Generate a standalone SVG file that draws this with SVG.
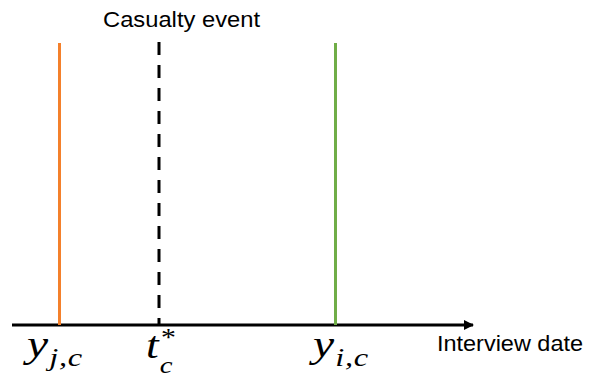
<svg xmlns="http://www.w3.org/2000/svg" width="590" height="380" viewBox="0 0 590 380">
<style>
.lbl{font-family:"Liberation Sans",Arial,sans-serif;font-size:22px;fill:#000}
.math{font-family:"Liberation Serif","Times New Roman",serif;font-style:italic;fill:#000}
.big{font-size:38px}
.sub{font-size:26px;letter-spacing:0.5px}
.sm{font-size:24px}
.st{font-size:25px}
</style>
<defs>
<marker id="arr" markerWidth="10" markerHeight="10" refX="9" refY="5" orient="auto" markerUnits="userSpaceOnUse">
<path d="M0,0 L10,5 L0,10 Z" fill="#000"/>
</marker>
</defs>
<rect width="590" height="380" fill="#fff"/>
<g id="connectors">
<line x1="12" y1="325" x2="473" y2="325" stroke="#000" stroke-width="3" marker-end="url(#arr)"/>
</g>
<g id="orange-line">
<line x1="59.5" y1="43" x2="59.5" y2="325" stroke="#f4802b" stroke-width="3"/>
</g>
<g id="event-line">
<line x1="159" y1="42" x2="159" y2="325" stroke="#000" stroke-width="3" stroke-dasharray="13 10"/>
</g>
<g id="green-line">
<line x1="335.5" y1="43" x2="335.5" y2="325" stroke="#70ad47" stroke-width="3"/>
</g>
<g id="casualty-label">
<text class="lbl" x="103" y="27" textLength="157" lengthAdjust="spacingAndGlyphs">Casualty event</text>
</g>
<g id="axis-label">
<text class="lbl" x="437" y="351" textLength="146" lengthAdjust="spacingAndGlyphs">Interview date</text>
</g>
<g id="yjc">
<text class="math" transform="matrix(1.25 0 0 1 27 0)" x="0" y="357"><tspan class="big">y</tspan><tspan class="sub" dx="1" dy="9">j,c</tspan></text>
</g>
<g id="tc">
<text class="math" transform="matrix(1.2 0 0 1 146 0)" x="0" y="358"><tspan class="big">t</tspan><tspan class="sm" dx="1" dy="15">c</tspan><tspan class="st" dx="-11" dy="-27">*</tspan></text>
</g>
<g id="yic">
<text class="math" transform="matrix(1.25 0 0 1 313 0)" x="0" y="357"><tspan class="big">y</tspan><tspan class="sub" dx="1" dy="9">i,c</tspan></text>
</g>
</svg>
